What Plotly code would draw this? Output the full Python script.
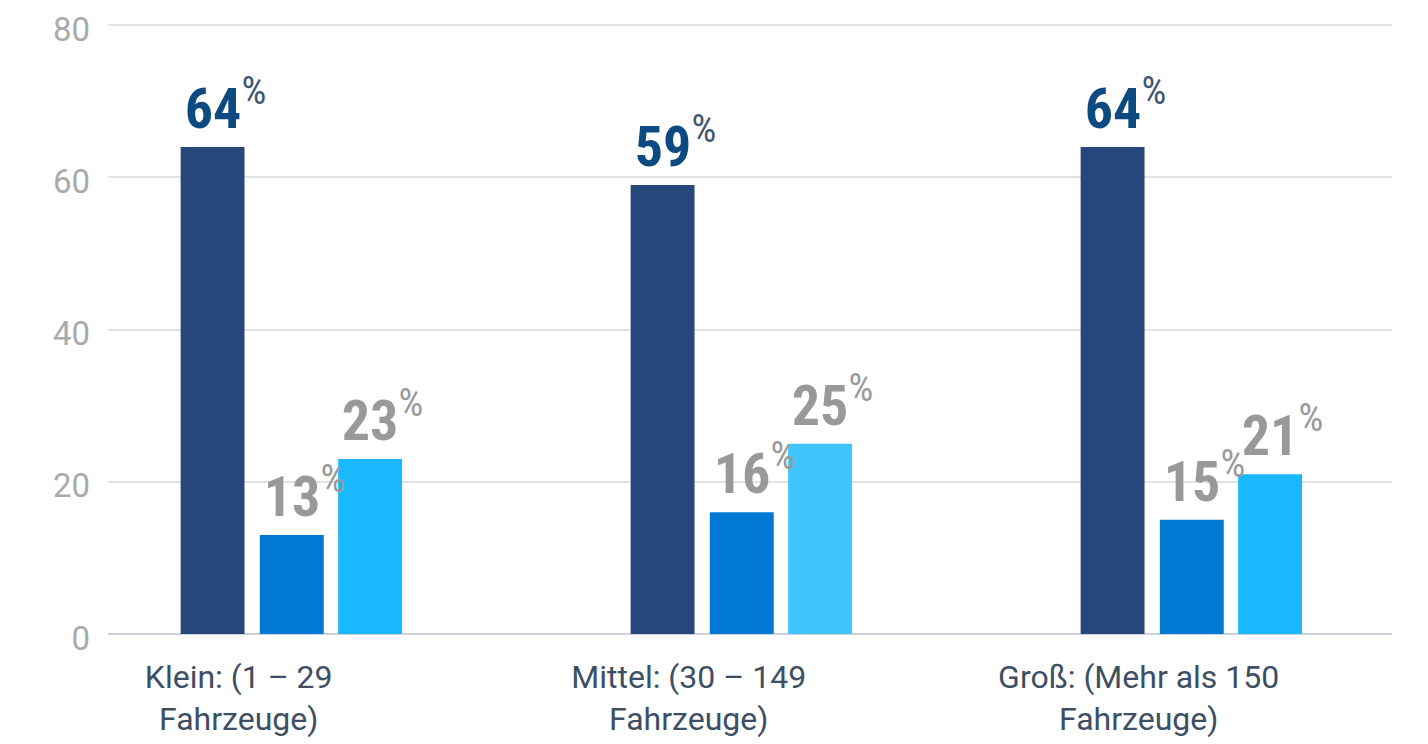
import plotly.graph_objects as go

categories = ["Klein: (1 – 29<br>Fahrzeuge)", "Mittel: (30 – 149<br>Fahrzeuge)", "Groß: (Mehr als 150<br>Fahrzeuge)"]
series_a = [64, 59, 64]
series_b = [13, 16, 15]
series_c = [23, 25, 21]
y_ticks = [0, 20, 40, 60, 80]

colors_a = ["#27477A", "#27477A", "#27477A"]
colors_b = ["#0078D4", "#0078D4", "#0078D4"]
colors_c = ["#1AB8FF", "#42C4FF", "#1AB8FF"]

bar_w = 0.142
offsets = [-0.129, 0.047, 0.221]
idx = list(range(len(categories)))

fig = go.Figure()
for vals, cols, off in [(series_a, colors_a, offsets[0]), (series_b, colors_b, offsets[1]), (series_c, colors_c, offsets[2])]:
    fig.add_trace(go.Bar(x=idx, y=vals, marker=dict(color=cols, line=dict(width=0)),
                         width=bar_w, offset=off, showlegend=False, hoverinfo="skip"))

num_font = "Roboto Condensed, Liberation Sans Narrow, Arial Narrow, DejaVu Sans Condensed, sans-serif"
for vals, off, ncol, pcol in [(series_a, offsets[0], "#0E4A82", "#3E5672"),
                              (series_b, offsets[1], "#999999", "#999999"),
                              (series_c, offsets[2], "#999999", "#999999")]:
    for i, v in enumerate(vals):
        txt = (f"<span style='color:rgba(0,0,0,0)'><sup>%</sup></span>"
               f"<span style='color:{ncol}'><b>{v}</b></span>"
               f"<span style='color:{pcol}'><sup>%</sup></span>")
        fig.add_annotation(x=i + off + bar_w / 2, y=v, text=txt, showarrow=False,
                           xanchor="center", yanchor="bottom", yshift=3,
                           font=dict(family=num_font, size=56, color=ncol))

fig.update_layout(
    width=1428, height=744,
    margin=dict(l=100, r=44, t=15, b=118),
    paper_bgcolor="white", plot_bgcolor="white",
    barmode="overlay",
    xaxis=dict(range=[-0.2904, 2.5629], tickvals=idx, ticktext=categories,
               showgrid=False, zeroline=False, showline=False, ticks="",
               automargin=False, ticklabelstandoff=21,
               tickfont=dict(family="Roboto", size=32, color="#3D4F64")),
    yaxis=dict(range=[0, 80.3], tickvals=y_ticks, showgrid=True, gridcolor="#DFE3E8", gridwidth=2,
               zeroline=True, zerolinecolor="#CDD3DC", zerolinewidth=2, showline=False,
               ticks="", ticklabelstandoff=17, ticklabelshift=4, automargin=False,
               ticklabeloverflow="allow",
               tickfont=dict(family="Roboto", size=33, color="#AAAAAA")),
)

fig.write_html("out.html")
